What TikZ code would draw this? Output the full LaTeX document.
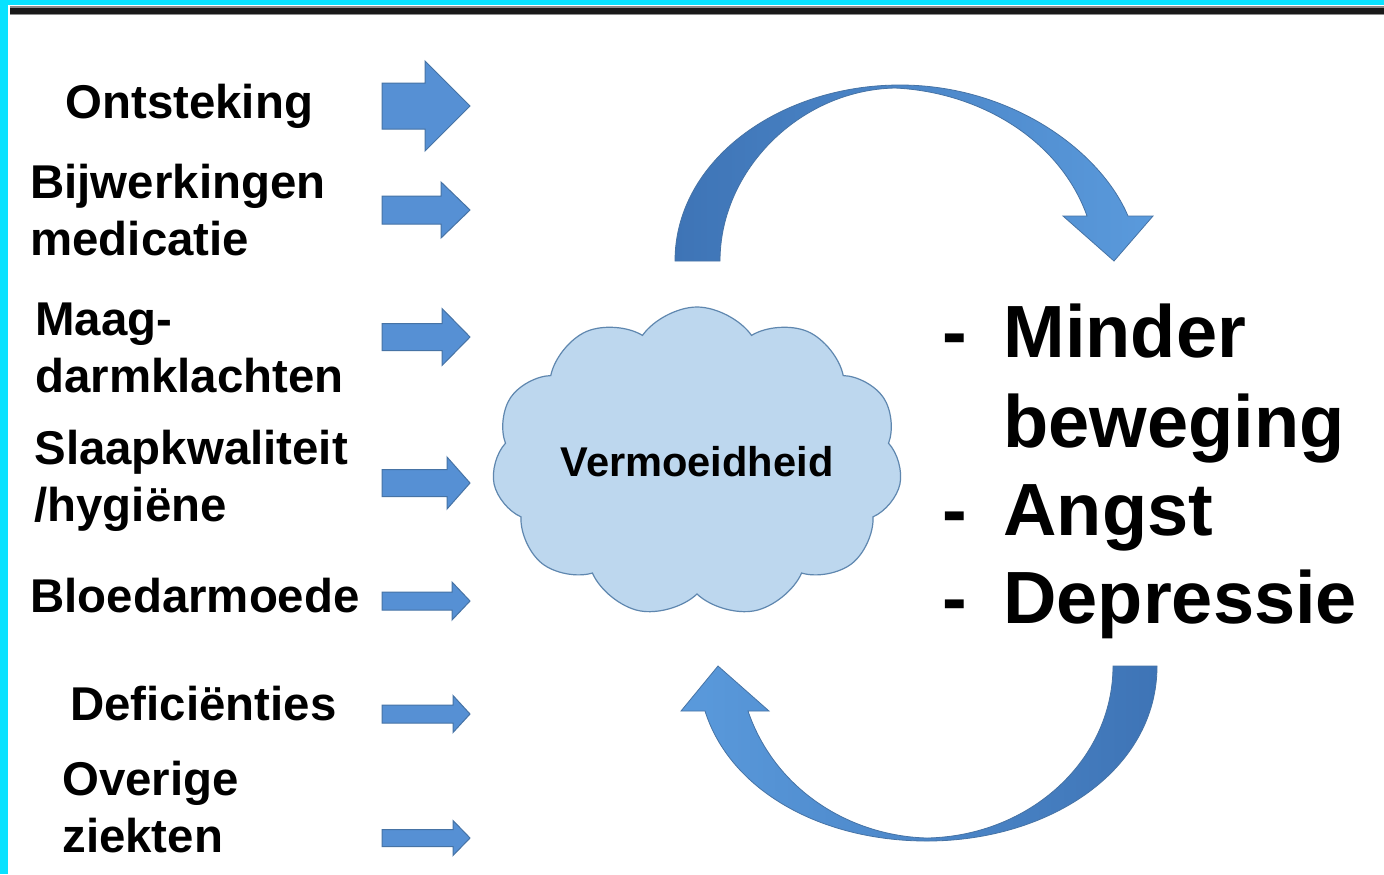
\documentclass[tikz,border=0pt]{standalone}
\usepackage{fontspec}
\setmainfont{Liberation Sans}
\usetikzlibrary{shapes.symbols}
\definecolor{cyanb}{RGB}{8,226,255}
\definecolor{arrfill}{RGB}{86,144,212}
\definecolor{arrline}{RGB}{70,115,165}
\definecolor{cloudfill}{RGB}{189,215,238}
\definecolor{cloudline}{RGB}{95,135,175}
\definecolor{darkarc}{RGB}{62,116,182}
\definecolor{lightarc}{RGB}{90,154,220}
\newcommand\blockarr[4]{%
  \filldraw[blockarrow] (382,{#1-#2}) -- (#4,{#1-#2}) -- (#4,{#1-#3}) -- (470,#1)
    -- (#4,{#1+#3}) -- (#4,{#1+#2}) -- (382,{#1+#2}) -- cycle;}
\begin{document}
\begin{tikzpicture}[x=0.5pt,y=-0.5pt,
  blockarrow/.style={fill=arrfill,draw=arrline,line width=0.5pt},
  lbl/.style={anchor=base west,inner sep=0pt,align=left,
    font=\fontsize{23.7}{28.5}\selectfont\bfseries},
  rt/.style={anchor=base west,inner sep=0pt,
    font=\fontsize{37}{44.5}\selectfont\bfseries},
  arcline/.style={draw=arrline,line width=0.4pt}]
\useasboundingbox (0,0) rectangle (1384,874);
\fill[white] (0,0) rectangle (1384,874);
% frame
\fill[cyanb] (0,0) rectangle (1384,5);
\fill[cyanb] (0,0) rectangle (8,874);
\fill[black!45] (10,6) rectangle (1384,15);
\fill[black!90] (10,7.5) rectangle (1384,13.5);
% left labels (multi-line nodes: anchor at last baseline)
\node[lbl] (ont) at (65,118) {Ontsteking};
\node[lbl] (bij) at (30,255) {Bijwerkingen\\medicatie};
\node[lbl] (maag) at (35,392) {Maag-\\darmklachten};
\node[lbl] (slaap) at (34,521) {Slaapkwaliteit\\/hygiëne};
\node[lbl] (bloed) at (30,612) {Bloedarmoede};
\node[lbl] (def) at (70,720) {Deficiënties};
\node[lbl] (ove) at (62,852) {Overige\\ziekten};
% block arrows
\blockarr{106}{23}{45}{425}
\blockarr{210}{14}{28}{441}
\blockarr{337}{13.5}{28.5}{442}
\blockarr{483}{13.5}{26}{447}
\blockarr{601}{9}{19}{452}
\blockarr{714}{9}{18.5}{453}
\blockarr{838}{8.5}{17.5}{453}
% cloud
\node[cloud,cloud puffs=11,cloud puff arc=110,cloud ignores aspect,
  minimum width=205pt,minimum height=155pt,fill=cloudfill,draw=cloudline,
  line width=0.6pt,inner sep=0pt,font=\fontsize{20.8}{24}\selectfont\bfseries]
  (cloud) at (697,462) {Vermoeidheid};
% top curved arrow
\shade[left color=darkarc,right color=lightarc,arcline]
  (675,261) .. controls (675,160) and (780,85) .. (900,85)
  .. controls (1010,85) and (1100,150) .. (1128,216)
  -- (1153,216) -- (1114,261) -- (1063,216) -- (1087,216)
  .. controls (1060,140) and (980,92) .. (895,88)
  .. controls (800,90) and (720,170) .. (720,261) -- cycle;
% bottom curved arrow
\shade[left color=lightarc,right color=darkarc,arcline]
  (1113,666) -- (1157,666)
  .. controls (1157,770) and (1050,841) .. (927,841)
  .. controls (820,841) and (730,790) .. (705,711)
  -- (681,711) -- (718,666) -- (769,711) -- (748,711)
  .. controls (775,790) and (850,836) .. (927,838)
  .. controls (1030,836) and (1113,760) .. (1113,666) -- cycle;
% right text
\node[rt] (d1) at (942,357) {-};
\node[rt] (t1) at (1003,357) {Minder};
\node[rt] (t2) at (1003,447) {beweging};
\node[rt] (d3) at (942,535) {-};
\node[rt] (t3) at (1003,535) {Angst};
\node[rt] (d4) at (942,623) {-};
\node[rt] (t4) at (1003,623) {Depressie};
\end{tikzpicture}
\end{document}
